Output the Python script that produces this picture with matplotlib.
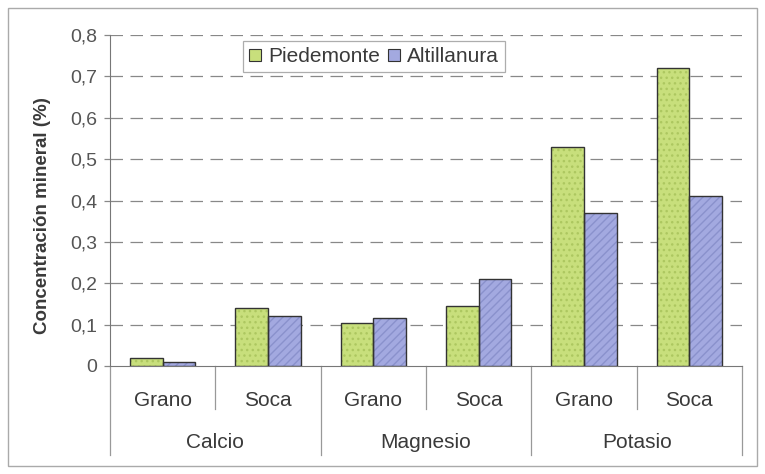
import matplotlib
matplotlib.use("Agg")
import matplotlib.pyplot as plt
import numpy as np
from matplotlib.patches import Rectangle, Patch

# data
minerals = ["Calcio", "Magnesio", "Potasio"]
parts = ["Grano", "Soca"]
piedemonte = [0.02, 0.14, 0.105, 0.145, 0.53, 0.72]
altillanura = [0.01, 0.12, 0.115, 0.21, 0.37, 0.41]
yticks = [0, 0.1, 0.2, 0.3, 0.4, 0.5, 0.6, 0.7, 0.8]
ytick_labels = ["0", "0,1", "0,2", "0,3", "0,4", "0,5", "0,6", "0,7", "0,8"]

green = "#c8df7c"
green_dot = "#adc760"
blue = "#a3a9e0"
blue_hatch = "#8a91cc"
edge = "#333333"
txt = "#3a3a3a"

plt.rcParams["font.family"] = ["Liberation Sans", "DejaVu Sans"]

fig = plt.figure(figsize=(7.65, 4.74), dpi=100)
fig.patch.set_facecolor("white")
ax = fig.add_axes([110 / 765, 1 - 366 / 474, 632 / 765, 331 / 474])

n = len(piedemonte)
x = np.arange(n)
w = 0.31

# filled bars with texture, then outline on top
ax.bar(x - w / 2, piedemonte, w, color=green, edgecolor=green_dot, hatch="...", linewidth=0, zorder=3)
ax.bar(x + w / 2, altillanura, w, color=blue, edgecolor=blue_hatch, hatch="////", linewidth=0, zorder=3)
ax.bar(x - w / 2, piedemonte, w, fill=False, edgecolor=edge, linewidth=1.0, zorder=4)
ax.bar(x + w / 2, altillanura, w, fill=False, edgecolor=edge, linewidth=1.0, zorder=4)

ax.set_xlim(-0.5, n - 0.5)
ax.set_ylim(0, 0.8)
ax.set_yticks(yticks)
ax.set_yticklabels(ytick_labels, fontsize=14, color="#555555")
ax.tick_params(axis="y", length=4, width=0.9, color="#888888", pad=5)
ax.set_xticks([])

for v in yticks[1:]:
    ax.axhline(v, color="#888888", linewidth=0.9, linestyle=(0, (10, 6)), zorder=1)

for s in ["top", "right"]:
    ax.spines[s].set_visible(False)
ax.spines["left"].set_color("#777777")
ax.spines["bottom"].set_color("#777777")

ax.set_ylabel("Concentración mineral (%)", fontsize=13.5, fontweight="bold", color=txt)
ax.yaxis.set_label_coords(-0.094, 0.456)

# two-level category axis
trans = ax.get_xaxis_transform()
for i in range(n):
    ax.text(x[i], -0.105, parts[i % 2], transform=trans, ha="center", va="center",
            fontsize=15, color=txt)
for j, m in enumerate(minerals):
    ax.text(2 * j + 0.5, -0.23, m, transform=trans, ha="center", va="center",
            fontsize=15, color=txt)
for k in range(n + 1):
    bottom = -0.27 if k % 2 == 0 else -0.13
    ax.plot([k - 0.5, k - 0.5], [0, bottom], transform=trans, color="#999999",
            linewidth=0.9, clip_on=False)

handles = [Patch(facecolor=green, edgecolor=edge, linewidth=0.8),
           Patch(facecolor=blue, edgecolor=edge, linewidth=0.8)]
leg = ax.legend(handles, ["Piedemonte", "Altillanura"], loc="upper left",
                bbox_to_anchor=(133 / 632, 0.982), ncol=2, fontsize=15, frameon=True,
                fancybox=False, handlelength=0.55, handleheight=0.55, handletextpad=0.35,
                columnspacing=0.4, borderpad=0.3, borderaxespad=0)
leg.get_frame().set_edgecolor("#999999")
leg.get_frame().set_linewidth(0.9)
for t in leg.get_texts():
    t.set_color(txt)

# outer border around the chart
fig.patches.append(Rectangle((8 / 765, 8 / 474), 749 / 765, 458 / 474, transform=fig.transFigure,
                             fill=False, edgecolor="#aaaaaa", linewidth=1.0))

fig.savefig("out.png", dpi=100)
